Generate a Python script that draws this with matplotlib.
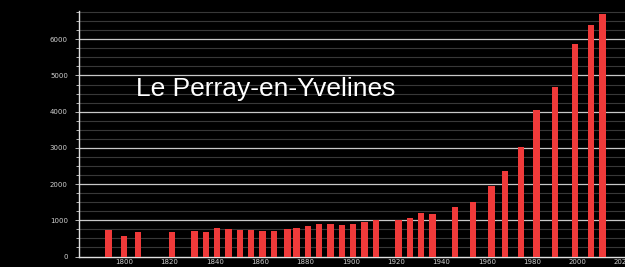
import matplotlib.pyplot as plt
import numpy as np

# census years and population, Le Perray-en-Yvelines
years = [1793, 1800, 1806, 1821, 1831, 1836, 1841, 1846, 1851, 1856, 1861, 1866,
         1872, 1876, 1881, 1886, 1891, 1896, 1901, 1906, 1911, 1921, 1926, 1931,
         1936, 1946, 1954, 1962, 1968, 1975, 1982, 1990, 1999, 2006, 2011]
population = [738, 553, 674, 674, 691, 674, 785, 765, 738, 738, 710, 691,
              765, 785, 848, 895, 895, 876, 895, 950, 1005, 1014, 1060, 1199,
              1171, 1364, 1492, 1953, 2367, 3011, 4033, 4669, 5867, 6401, 6685]
title = 'Le Perray-en-Yvelines'

fig = plt.figure(figsize=(6.25, 2.67), dpi=100, facecolor='black')
ax = fig.add_axes([79 / 625, 10.5 / 267, 1 - 79 / 625, 245.5 / 267])
ax.set_facecolor('black')

# grid: minor every 250, major every 1000
for v in np.arange(250, 6800, 250):
    if v % 1000 == 0:
        ax.axhline(v, color='#c8c8c8', lw=0.9, zorder=1)
    else:
        ax.axhline(v, color='#383838', lw=0.8, zorder=1)

ax.bar(years, population, width=2.8, color='#f03a3a', zorder=3)

ax.set_xlim(1780, 2021)
ax.set_ylim(0, 6780)
ax.set_xticks(np.arange(1800, 2021, 20))
ax.set_yticks(np.arange(0, 6001, 1000))
ax.set_yticks(np.arange(0, 6780, 250), minor=True)
ax.set_yticklabels(['0', '1000', '2000', '3000', '4000', '5000', '6000'])

for s in ['top', 'right']:
    ax.spines[s].set_visible(False)
for s in ['left', 'bottom']:
    ax.spines[s].set_color('#e0e0e0')
    ax.spines[s].set_linewidth(1.0)
ax.tick_params(axis='x', colors='#d0d0d0', labelsize=5, length=0, pad=2)
ax.tick_params(axis='y', which='both', colors='#d0d0d0', labelsize=5, length=3, width=0.6, pad=5)
ax.tick_params(axis='y', which='minor', length=2)

ax.text(1805, 4420, title, fontsize=19, color='white', family='Liberation Sans', zorder=4)

plt.savefig('out.png', dpi=100, facecolor='black')
